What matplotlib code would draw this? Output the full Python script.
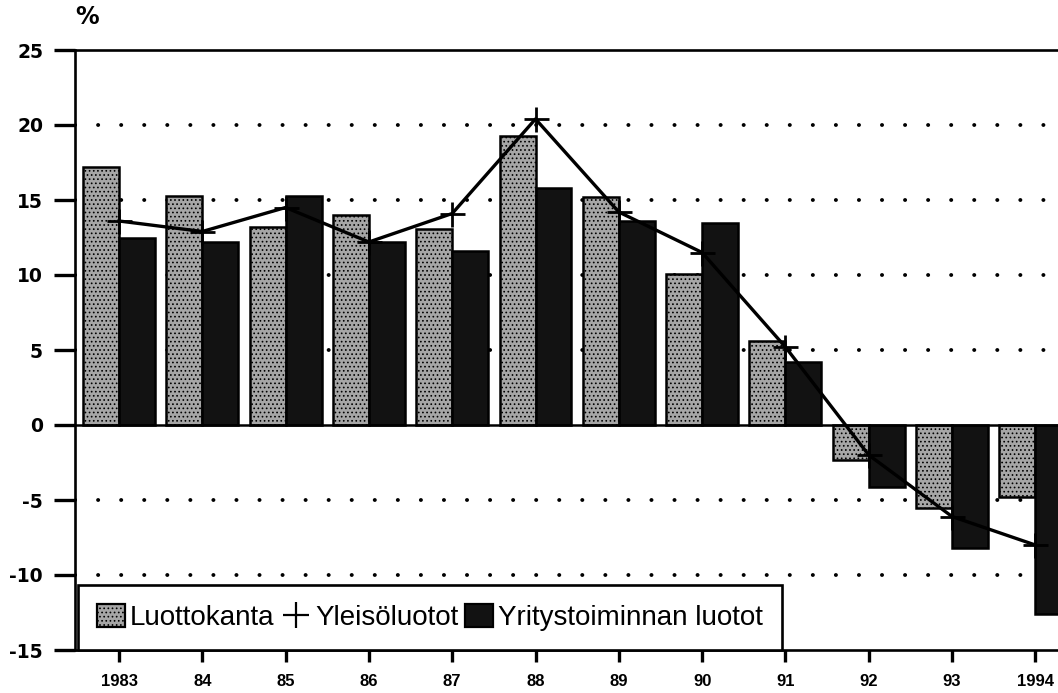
import matplotlib
matplotlib.use("Agg")
import matplotlib.pyplot as plt
import numpy as np
from matplotlib.lines import Line2D
from matplotlib.patches import Patch

plt.rcParams["axes.unicode_minus"] = False
plt.rcParams["lines.scale_dashes"] = False
plt.rcParams["hatch.linewidth"] = 0.7

years = ["1983", "84", "85", "86", "87", "88", "89", "90", "91", "92", "93", "1994"]
luottokanta = [17.2, 15.3, 13.2, 14.0, 13.1, 19.3, 15.2, 10.1, 5.6, -2.3, -5.5, -4.8]
yleisoluotot = [13.6, 12.9, 14.5, 12.2, 14.1, 20.4, 14.2, 11.5, 5.2, -2.0, -6.1, -8.0]
yritysluotot = [12.5, 12.2, 15.3, 12.2, 11.6, 15.8, 13.6, 13.5, 4.2, -4.1, -8.2, -12.6]

light = "#a6a6a6"
dark = "#121212"

fig = plt.figure(figsize=(10.58, 6.93), dpi=100)
ax = fig.add_axes([75 / 1058, 1 - 650 / 693, 1 - 75 / 1058, 600 / 693])

x = np.arange(len(years))
w = 0.432

# dotted grid lines behind everything
for g in [20, 15, 10, 5, -5, -10]:
    ax.axhline(g, color="black", lw=2.8, linestyle=(0, (0.1, 16.5)),
               dash_capstyle="round", zorder=0)

ax.bar(x - w / 2, luottokanta, w, facecolor=light, edgecolor="black",
       linewidth=1.8, hatch="....", zorder=2)
ax.bar(x + w / 2, yritysluotot, w, facecolor=dark, edgecolor="black",
       linewidth=1.8, zorder=2)
ax.axhline(0, color="black", lw=1.8, zorder=3)
ax.plot(x, yleisoluotot, color="black", lw=2.4, marker="+", markersize=18,
        markeredgewidth=2.0, zorder=4)

ax.set_xlim(-44 / 83.3, (1058 - 119) / 83.3)
ax.set_ylim(-15, 25)
ax.set_yticks(range(-15, 26, 5))
ax.set_xticks(x)
ax.set_xticklabels(years, fontfamily="Liberation Sans", fontweight="bold", fontsize=12)
for lab in ax.get_yticklabels():
    lab.set_fontfamily("DejaVu Sans")
    lab.set_fontweight("bold")
    lab.set_fontsize(13.5)
ax.tick_params(axis="y", direction="out", length=15, width=2.4, pad=8)
ax.tick_params(axis="x", direction="out", length=8.5, width=2.4, pad=9)

ax.spines["right"].set_visible(False)
for s in ["left", "top", "bottom"]:
    ax.spines[s].set_linewidth(1.9)

handles = [
    Patch(facecolor=light, edgecolor="black", hatch="....", linewidth=1.6),
    Line2D([], [], color="black", linestyle="none", marker="+", markersize=19,
           markeredgewidth=1.6),
    Patch(facecolor=dark, edgecolor="black", linewidth=1.6),
]
leg = ax.legend(handles, ["Luottokanta", "Yleisöluotot", "Yritystoiminnan luotot"],
                loc="lower left", bbox_to_anchor=(0.003, 0.0), borderaxespad=0,
                ncol=3, prop={"family": "Liberation Sans", "size": 20},
                handlelength=1.0, handleheight=0.9, handletextpad=0.2,
                columnspacing=0.25, borderpad=0.68, fancybox=False,
                framealpha=1, edgecolor="black")
leg.get_frame().set_linewidth(1.9)
leg.set_zorder(5)

fig.text(87 / 1058, 1 - 17 / 693, "%", ha="center", va="center",
         fontfamily="DejaVu Sans", fontweight="bold", fontsize=17)

fig.savefig("out.png", dpi=100)
